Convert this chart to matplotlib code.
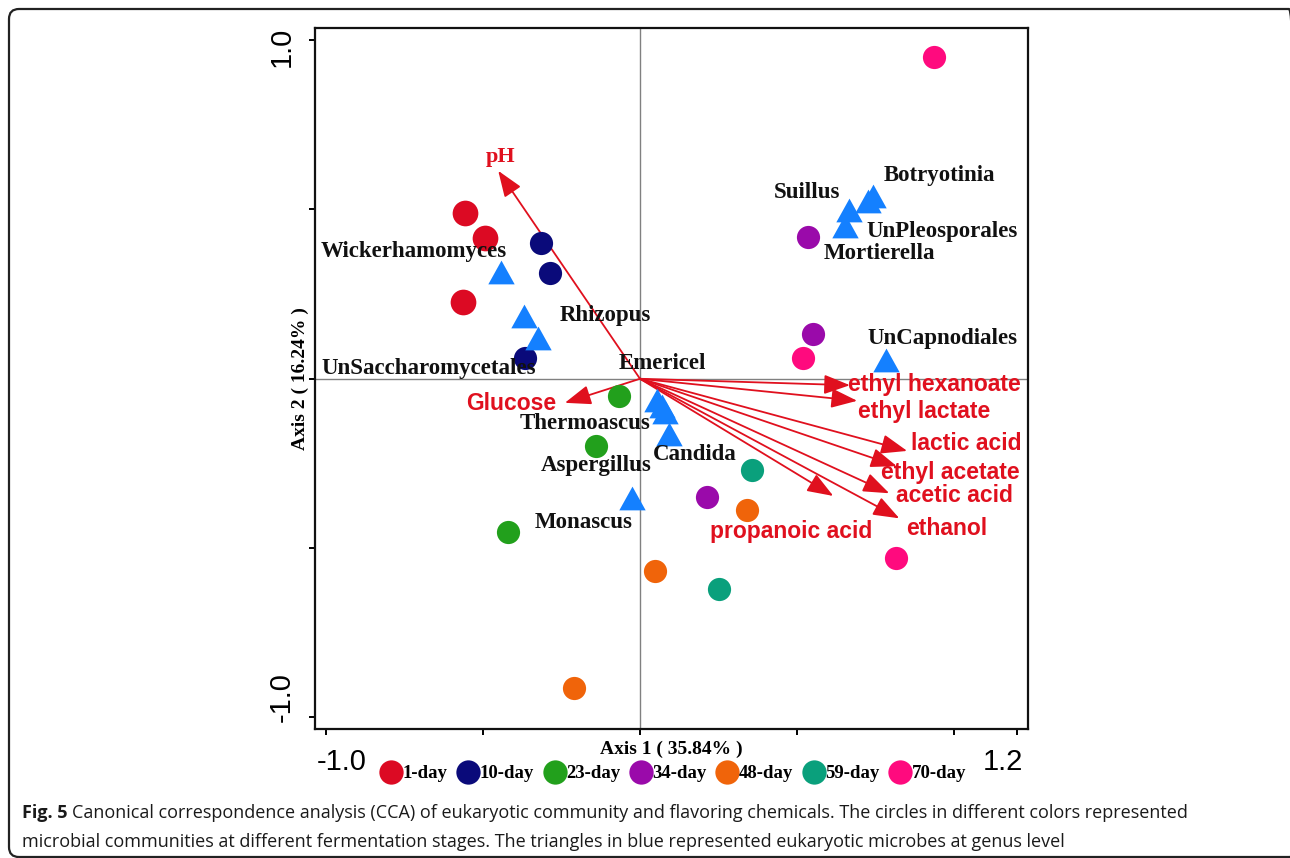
import matplotlib.pyplot as plt
import matplotlib.transforms as mtransforms
from matplotlib.patches import FancyBboxPatch
from matplotlib.lines import Line2D

# === Data ===
# sample scores (circles), one group per fermentation day
days = ["1-day", "10-day", "23-day", "34-day", "48-day", "59-day", "70-day"]
day_colors = ["#DC0A23", "#0A0A7A", "#22A01C", "#9A0AAA", "#F0640A", "#0AA07C", "#FF0A7E"]
site_x = [
    [-0.557, -0.492, -0.562],
    [-0.315, -0.286, -0.366],
    [-0.066, -0.140, -0.421],
    [0.534, 0.549, 0.212],
    [0.340, 0.048, -0.209],
    [0.356, 0.250],
    [0.936, 0.518, 0.815],
]
site_y = [
    [0.488, 0.415, 0.226],
    [0.400, 0.311, 0.060],
    [-0.050, -0.198, -0.452],
    [0.419, 0.132, -0.348],
    [-0.388, -0.568, -0.914],
    [-0.270, -0.621],
    [0.949, 0.062, -0.530],
]

# genus scores (triangles)
genus_names = ["Wickerhamomyces", "Rhizopus", "UnSaccharomycetales", "Botryotinia",
               "UnPleosporales", "Suillus", "Mortierella", "UnCapnodiales", "Emericel",
               "Thermoascus", "Aspergillus", "Candida", "Monascus"]
genus_x = [-0.442, -0.369, -0.325, 0.740, 0.725, 0.665, 0.652, 0.783, 0.054,
           0.070, 0.080, 0.093, -0.024]
genus_y = [0.316, 0.184, 0.119, 0.540, 0.525, 0.498, 0.451, 0.055, -0.064,
           -0.081, -0.098, -0.163, -0.353]

# environmental vectors (flavoring chemicals)
chem_names = ["pH", "Glucose", "ethyl hexanoate", "ethyl lactate", "lactic acid",
              "ethyl acetate", "acetic acid", "ethanol", "propanoic acid"]
chem_x = [-0.451, -0.239, 0.668, 0.691, 0.850, 0.817, 0.793, 0.825, 0.615]
chem_y = [0.614, -0.071, -0.019, -0.065, -0.213, -0.258, -0.338, -0.412, -0.346]

# === Label layout (data coords) ===
genus_label_pos = {
    "Wickerhamomyces": (-1.015, 0.375, "left"),
    "UnSaccharomycetales": (-1.013, 0.031, "left"),
    "Rhizopus": (-0.255, 0.188, "left"),
    "Emericel": (-0.069, 0.045, "left"),
    "Thermoascus": (-0.384, -0.132, "left"),
    "Aspergillus": (-0.315, -0.255, "left"),
    "Candida": (0.042, -0.225, "left"),
    "Monascus": (-0.334, -0.425, "left"),
    "Suillus": (0.426, 0.549, "left"),
    "Botryotinia": (0.774, 0.599, "left"),
    "UnPleosporales": (0.721, 0.434, "left"),
    "Mortierella": (0.583, 0.370, "left"),
    "UnCapnodiales": (0.723, 0.119, "left"),
}
chem_label_pos = {
    "pH": (-0.445, 0.656, "center"),
    "Glucose": (-0.265, -0.072, "right"),
    "ethyl hexanoate": (0.662, -0.016, "left"),
    "ethyl lactate": (0.694, -0.097, "left"),
    "lactic acid": (0.861, -0.191, "left"),
    "ethyl acetate": (0.766, -0.278, "left"),
    "acetic acid": (0.815, -0.346, "left"),
    "ethanol": (0.846, -0.442, "left"),
    "propanoic acid": (0.223, -0.452, "left"),
}

RED = "#E0101E"
TRI_BLUE = "#1480FF"
SERIF = "Liberation Serif"
SANS = "Liberation Sans"

fig = plt.figure(figsize=(12.9, 8.58), dpi=100)
ax = fig.add_axes([315 / 1290, 1 - 729 / 858, 713 / 1290, 701 / 858])
ax.set_xlim(-1.034, 1.2345)
ax.set_ylim(-1.034, 1.0356)

# zero lines
ax.axhline(0, color="#808080", lw=1.0, zorder=1)
ax.axvline(0, color="#808080", lw=1.0, zorder=1)

# arrows from origin
for name, cx, cy in zip(chem_names, chem_x, chem_y):
    ax.annotate("", xy=(cx, cy), xytext=(0, 0),
                arrowprops=dict(arrowstyle="-|>,head_length=0.8,head_width=0.3",
                                color=RED, lw=1.3, shrinkA=0, shrinkB=0,
                                mutation_scale=20),
                zorder=2)
    lx, ly, ha = chem_label_pos[name]
    if name == "pH":
        ax.text(lx, ly, name, color=RED, fontsize=16, fontfamily=SERIF,
                fontweight="bold", ha=ha, va="center", zorder=5)
    else:
        ax.text(lx, ly, name, color=RED, fontsize=16.5, fontfamily=SANS,
                fontweight="bold", ha=ha, va="center", zorder=5)

# triangle marker slightly wider than tall
tri = [(-1, -0.9), (1, -0.9), (0, 0.9)]

# circles
for i, (d, c) in enumerate(zip(days, day_colors)):
    ms = 18.5 if i == 0 else 16.7
    ax.plot(site_x[i], site_y[i], "o", ms=ms, color=c, mec=c, mew=0, zorder=3)

# triangles
ax.plot(genus_x, genus_y, ls="none", marker=tri, ms=19, color=TRI_BLUE, mew=0, zorder=3)

for name in genus_names:
    lx, ly, ha = genus_label_pos[name]
    ax.text(lx, ly, name, fontsize=16.5, fontfamily=SERIF, fontweight="bold",
            color="#111111", ha=ha, va="center", zorder=4)

# spines / ticks
for sp in ax.spines.values():
    sp.set_linewidth(1.6)
    sp.set_color("#111111")

ax.set_xticks([-1.0, -0.5, 0, 0.5, 1.0, 1.2])
ax.set_xticklabels(["-1.0", "", "", "", "", "1.2"])
ax.set_yticks([-1.0, -0.5, 0, 0.5, 1.0])
ax.set_yticklabels(["-1.0", "", "", "", "1.0"], rotation=90, va="center")
ax.tick_params(direction="out", length=4, width=1.4, labelsize=21, pad=10)
for lab in ax.get_xticklabels() + ax.get_yticklabels():
    lab.set_fontfamily(SANS)

# nudge end labels inward like the original
xl = ax.get_xticklabels()
xl[0].set_transform(xl[0].get_transform() + mtransforms.ScaledTranslation(16 / 100, 0, fig.dpi_scale_trans))
xl[-1].set_transform(xl[-1].get_transform() + mtransforms.ScaledTranslation(-14 / 100, 0, fig.dpi_scale_trans))
yl = ax.get_yticklabels()
yl[0].set_transform(yl[0].get_transform() + mtransforms.ScaledTranslation(0, 20 / 100, fig.dpi_scale_trans))
yl[-1].set_transform(yl[-1].get_transform() + mtransforms.ScaledTranslation(0, -7 / 100, fig.dpi_scale_trans))

ax.set_xlabel("Axis 1 ( 35.84% )", fontsize=14, fontfamily=SERIF, fontweight="bold", va="center")
ax.xaxis.set_label_coords(0.5, -0.0285)
ax.set_ylabel("Axis 2 ( 16.24% )", fontsize=14, fontfamily=SERIF, fontweight="bold", va="center")
ax.yaxis.set_label_coords(-0.021, 0.5)

# legend row
handles = [Line2D([], [], ls="none", marker="o", ms=17.5, color=c, mew=0) for c in day_colors]
fig.legend(handles, days, loc="center", bbox_to_anchor=(0.5225, 0.098), ncol=7,
           frameon=False, handletextpad=0.12, columnspacing=0.6, handlelength=1.0,
           prop={"family": SERIF, "weight": "bold", "size": 13.5})

# caption
cap_font = "Open Sans"
cap_size = 13
t1 = fig.text(22 / 1290, 1 - 813 / 858, "Fig. 5", fontsize=cap_size, fontweight="bold",
              fontfamily=cap_font, color="#1a1a1a", va="center", ha="left")
ax.annotate("Canonical correspondence analysis (CCA) of eukaryotic community and flavoring "
            "chemicals. The circles in different colors represented",
            xy=(1, 0), xycoords=t1, xytext=(3, 0), textcoords="offset points",
            fontsize=cap_size, fontfamily=cap_font, color="#1a1a1a", va="bottom", ha="left",
            annotation_clip=False)
fig.text(22 / 1290, 1 - 842 / 858,
         "microbial communities at different fermentation stages. The triangles in blue "
         "represented eukaryotic microbes at genus level",
         fontsize=cap_size, fontfamily=cap_font, color="#1a1a1a", va="center", ha="left")

# rounded frame around everything
frame = FancyBboxPatch((0.09, 0.01), 12.9, 8.48, boxstyle="round,pad=0,rounding_size=0.1",
                       transform=fig.dpi_scale_trans, fill=False, lw=1.6, ec="#222222")
fig.add_artist(frame)

fig.savefig("out.png", dpi=100)
